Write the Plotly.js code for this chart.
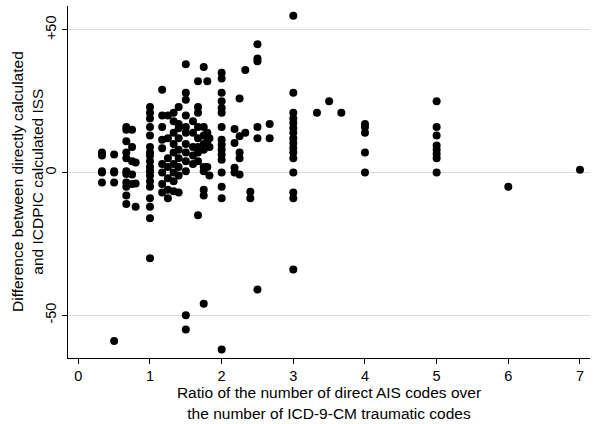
<!DOCTYPE html>
<html>
<head>
<meta charset="utf-8">
<script src="https://cdn.plot.ly/plotly-3.0.1.min.js"></script>
<style>
  body { margin: 0; background: white; }
  #chart { width: 600px; height: 424px; }
</style>
</head>
<body>
<div id="chart"></div>
<script>
// ratio of direct AIS codes over ICD-9-CM codes (one entry per column of dots)
var ratioLevels = [0.33, 0.5, 0.67, 0.75, 0.8, 1, 1.17, 1.25, 1.33, 1.4, 1.5, 1.6,
    1.67, 1.75, 1.8, 1.83, 2, 2.18, 2.25, 2.33, 2.4, 2.5, 2.67, 3, 3.33, 3.5, 3.67,
    4, 5, 6, 7];

// ISS difference (direct - ICDPIC) for each ratio column
var diffByLevel = [
    [7, 6, 0.5, 0, -3.5],
    [6.3, 0.5, 0, -3.5, -59],
    [16, 15, 11, 7, 5, 0.5, -0.5, -3.5, -5, -8, -11],
    [15, 9, 4, -0.7, -4],
    [3.5, -3.8, -12],
    [23, 21, 19, 16, 13, 9, 7, 6, 4, 2, 0.5, -1, -3, -5, -9, -12, -16, -30],
    [29, 20, 16, 11.5, 8.5, 3, 0, -4, -7],
    [20, 12, 5, 2, -2, -6, -9],
    [21, 18, 14, 10, 7, 3, 0, -3, -6.5],
    [23, 17, 15.5, 12, 8, 5, 2, -1, -7],
    [38, 28, 25.5, 20, 16, 14, 10, 7, 4, 0.5, -50, -55],
    [18, 14, 9, 6, 3],
    [32, 23, 21, 16, 12, 9, 7, 4, -15],
    [37, 16, 13, 10, 8, 2, 0.5, -6, -8, -46],
    [32, 14, 11, 2],
    [12, 9, -1],
    [35, 33, 28, 25, 22.6, 21, 16, 11.5, 9.8, 8, 6.3, 4.5, 0, -5, -9, -62],
    [15.3, 10.4, 1.7, 0],
    [26, 12.7, 7, 5, -0.7],
    [36, 14],
    [-6.7, -9],
    [45, 40, 39, 16, 12, -41],
    [17, 12],
    [55, 28, 21, 19, 17.4, 15.6, 14, 12, 10.4, 8.6, 7, 5, 0, -7, -9, -34],
    [21],
    [25],
    [21],
    [17, 16, 14, 7, 0],
    [25, 16, 13, 9.5, 8, 6.5, 5, 0],
    [-5],
    [1]
];

var yTickVals = [-50, 0, 50];
var yTickText = ['-50', '0', '+50'];
var xTickVals = [0, 1, 2, 3, 4, 5, 6, 7];

// flatten columns into x/y for the scatter trace
var xs = [], ys = [];
for (var i = 0; i < ratioLevels.length; i++) {
    for (var j = 0; j < diffByLevel[i].length; j++) {
        xs.push(ratioLevels[i]);
        ys.push(diffByLevel[i][j]);
    }
}

var fnt = 'Arial, "Liberation Sans", sans-serif';

var trace_pts = {
    x: xs,
    y: ys,
    mode: 'markers',
    type: 'scatter',
    marker: {size: 8, color: 'black'},
    hoverinfo: 'skip'
};

var layout = {
    width: 600,
    height: 424,
    showlegend: false,
    margin: {l: 68, r: 10, t: 6, b: 66},
    paper_bgcolor: 'white',
    plot_bgcolor: 'white',
    font: {family: fnt, size: 14, color: 'black'},
    xaxis: {
        range: [-0.144, 7.14],
        tickvals: xTickVals,
        ticks: 'outside',
        ticklen: 5,
        tickcolor: 'black',
        showgrid: false,
        zeroline: false,
        showline: true,
        linecolor: 'black',
        linewidth: 1,
        tickfont: {family: fnt, size: 14.5},
        title: {
            text: 'Ratio of the number of direct AIS codes over<br>the number of ICD-9-CM traumatic codes',
            font: {family: fnt, size: 15.5},
            standoff: 1
        }
    },
    yaxis: {
        range: [-65.0, 58.4],
        tickvals: yTickVals,
        ticktext: yTickText,
        tickangle: -90,
        ticks: 'outside',
        ticklen: 5,
        tickcolor: 'black',
        showgrid: true,
        gridcolor: '#dcdcdc',
        gridwidth: 1,
        zeroline: false,
        showline: true,
        linecolor: 'black',
        linewidth: 1,
        tickfont: {family: fnt, size: 14.5}
    },
    // y title as a rotated annotation so it sits where the original has it
    annotations: [{
        text: 'Difference between directly calculated<br>and ICDPIC calculated ISS',
        xref: 'paper',
        yref: 'paper',
        x: 0,
        y: 0.5,
        xanchor: 'center',
        yanchor: 'middle',
        xshift: -41,
        textangle: -90,
        showarrow: false,
        font: {family: fnt, size: 15.5, color: 'black'}
    }]
};

Plotly.newPlot('chart', [trace_pts], layout, {displayModeBar: false, staticPlot: true});
</script>
</body>
</html>
